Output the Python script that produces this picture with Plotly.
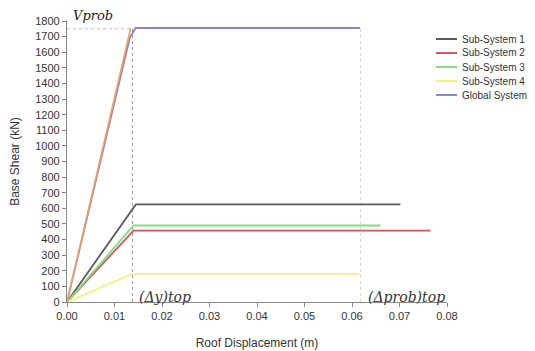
import plotly.graph_objects as go

# Data (Roof Displacement m, Base Shear kN)
names = ["Sub-System 1", "Sub-System 2", "Sub-System 3", "Sub-System 4", "Global System"]
disp = [
    [0.0, 0.0145, 0.0702],
    [0.0, 0.0140, 0.0765],
    [0.0, 0.0140, 0.0660],
    [0.0, 0.0137, 0.0615],
    [0.0, 0.0132, 0.0144, 0.0617],
]
shear = [
    [0, 625, 625],
    [0, 457, 457],
    [0, 490, 490],
    [0, 180, 180],
    [0, 1690, 1755, 1755],
]
colors = ["#5a5a5a", "#e0505a", "#7ee07e", "#f6f07c", "#8585d6"]

# Orange elastic branch of global system (not in legend)
orange_x = [0.0, 0.0134]
orange_y = [0, 1752]

# Reference levels
v_prob = 1750
dy_top = 0.0138
dprob_top = 0.0618

xticks = [0.00, 0.01, 0.02, 0.03, 0.04, 0.05, 0.06, 0.07, 0.08]
yticks = list(range(0, 1801, 100))

fig = go.Figure()

# dotted reference lines
fig.add_trace(go.Scatter(x=[0, dy_top], y=[v_prob, v_prob], mode="lines",
                         line=dict(color="#bbbbbb", width=1, dash="dot"),
                         showlegend=False, hoverinfo="skip"))
fig.add_trace(go.Scatter(x=[dy_top, dy_top], y=[0, v_prob], mode="lines",
                         line=dict(color="#999999", width=1, dash="dot"),
                         showlegend=False, hoverinfo="skip"))
fig.add_trace(go.Scatter(x=[dprob_top, dprob_top], y=[0, v_prob], mode="lines",
                         line=dict(color="#d4d4c4", width=1, dash="dot"),
                         showlegend=False, hoverinfo="skip"))

for n, xs, ys, c in zip(names, disp, shear, colors):
    fig.add_trace(go.Scatter(x=xs, y=ys, mode="lines", name=n,
                             line=dict(color=c, width=1.8), showlegend=False))

fig.add_trace(go.Scatter(x=orange_x, y=orange_y, mode="lines",
                         line=dict(color="#f0a060", width=1.6),
                         showlegend=False))

# Manual legend (keys + labels) in the right margin
plot_left, plot_w, plot_top, plot_h = 67, 380, 21, 281
leg_y0, leg_dy = 39, 14
for i, (n, c) in enumerate(zip(names, colors)):
    py = leg_y0 + i * leg_dy
    yp = (plot_top + plot_h - py) / plot_h
    fig.add_shape(type="line", xref="paper", yref="paper",
                  x0=(436 - plot_left) / plot_w, x1=(457 - plot_left) / plot_w,
                  y0=yp, y1=yp, line=dict(color=c, width=2))
    fig.add_annotation(x=(460 - plot_left) / plot_w, y=yp, xref="paper", yref="paper",
                       text=n, showarrow=False, xanchor="left", yanchor="middle",
                       font=dict(family="Liberation Sans", size=10, color="#333"))

fig.add_annotation(x=0, y=1, xref="paper", yref="paper", text="<i>Vprob</i>",
                   showarrow=False, xanchor="left", yanchor="middle", xshift=4, yshift=6,
                   font=dict(family="DejaVu Serif", size=13, color="#222"))
fig.add_annotation(x=dy_top, y=0, xref="x", yref="y", text="<i>(Δy)top</i>",
                   showarrow=False, xanchor="left", yanchor="bottom", xshift=4, yshift=-5,
                   font=dict(family="DejaVu Serif", size=14, color="#333"))
fig.add_annotation(x=0.08, y=0, xref="x", yref="y", text="<i>(Δprob)top</i>",
                   showarrow=False, xanchor="right", yanchor="bottom", xshift=0, yshift=-5,
                   font=dict(family="DejaVu Serif", size=14, color="#333"))

axis_common = dict(showgrid=False, zeroline=False, showline=True, linecolor="#888",
                   linewidth=1.2, ticks="outside", ticklen=4, tickcolor="#888",
                   automargin=False,
                   tickfont=dict(family="Liberation Sans", size=11, color="#333"))

fig.update_xaxes(range=[0, 0.08], tickvals=xticks, tickformat=".2f",
                 title=dict(text="Roof Displacement (m)", standoff=17,
                            font=dict(family="Liberation Sans", size=12, color="#333")),
                 **axis_common)
fig.update_yaxes(range=[0, 1800], tickvals=yticks,
                 title=dict(text="Base Shear (kN)", standoff=14,
                            font=dict(family="Liberation Sans", size=12, color="#333")),
                 **axis_common)

# page body has an 8px margin, so the figure is 8px smaller and margins shifted
fig.update_layout(
    width=527, height=343,
    margin=dict(l=59, r=88, t=13, b=49, autoexpand=False),
    plot_bgcolor="white", paper_bgcolor="white",
    showlegend=False,
    font=dict(family="Liberation Sans"),
)

fig.write_html("out.html")
